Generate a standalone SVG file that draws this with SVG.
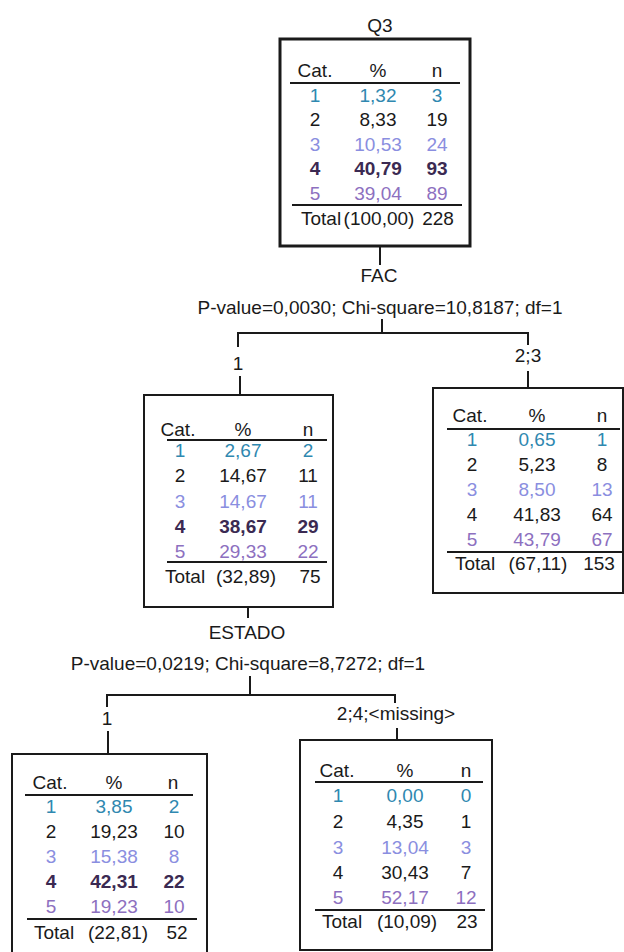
<svg xmlns="http://www.w3.org/2000/svg" width="624" height="952" viewBox="0 0 624 952">
<style>
text{font-family:"Liberation Sans",Arial,sans-serif;font-size:19px;fill:#1a1a1a}
.m{text-anchor:middle}
.r1{fill:#2f88b0}
.r3{fill:#8a8ee0}
.r4{fill:#3b2a52;font-weight:bold}
.r5{fill:#8d70bf}
.box{fill:#fff;stroke:#1a1a1a;stroke-width:2}
.ln{stroke:#1a1a1a;stroke-width:2;fill:none}
</style>
<rect width="624" height="952" fill="#fff"/>

<g id="connectors">
<line class="ln" x1="380" y1="247" x2="380" y2="265"/>
<line class="ln" x1="382" y1="319" x2="382" y2="333"/>
<polyline class="ln" points="238,347 238,333 528,333 528,345"/>
<line class="ln" x1="240" y1="376" x2="240" y2="395"/>
<line class="ln" x1="528" y1="371" x2="528" y2="388"/>
<line class="ln" x1="248" y1="607" x2="248" y2="618"/>
<line class="ln" x1="250" y1="676" x2="250" y2="695"/>
<polyline class="ln" points="107,707 107,695 395,695 395,703"/>
<line class="ln" x1="108" y1="731" x2="108" y2="754"/>
<line class="ln" x1="397" y1="728" x2="397" y2="740"/>
</g>

<g id="labels">
<text class="m" x="380" y="32">Q3</text>
<text class="m" x="379" y="282">FAC</text>
<text class="m" x="380" y="314">P-value=0,0030; Chi-square=10,8187; df=1</text>
<text class="m" x="238" y="370">1</text>
<text class="m" x="528" y="362">2;3</text>
<text class="m" x="247" y="639">ESTADO</text>
<text class="m" x="248" y="670">P-value=0,0219; Chi-square=8,7272; df=1</text>
<text class="m" x="107" y="725">1</text>
<text class="m" x="396" y="720">2;4;&lt;missing&gt;</text>
</g>

<g id="node-q3">
<rect class="box" x="280" y="39" width="190" height="207" style="stroke-width:3"/>
<text class="m" x="315" y="77">Cat.</text><text class="m" x="378" y="77">%</text><text class="m" x="437" y="77">n</text>
<line class="ln" x1="290" y1="83" x2="460" y2="83"/>
<text class="m r1" x="315" y="102">1</text><text class="m r1" x="378" y="102">1,32</text><text class="m r1" x="437" y="102">3</text>
<text class="m" x="315" y="126">2</text><text class="m" x="378" y="126">8,33</text><text class="m" x="437" y="126">19</text>
<text class="m r3" x="315" y="151">3</text><text class="m r3" x="378" y="151">10,53</text><text class="m r3" x="437" y="151">24</text>
<text class="m r4" x="315" y="175">4</text><text class="m r4" x="378" y="175">40,79</text><text class="m r4" x="437" y="175">93</text>
<text class="m r5" x="315" y="200">5</text><text class="m r5" x="378" y="200">39,04</text><text class="m r5" x="437" y="200">89</text>
<line class="ln" x1="292" y1="205" x2="462" y2="205"/>
<text x="301" y="225">Total</text><text class="m" x="379" y="225">(100,00)</text><text class="m" x="438" y="225">228</text>
</g>

<g id="node-fac-1">
<rect class="box" x="144" y="395" width="189" height="212"/>
<text class="m" x="178" y="436">Cat.</text><text class="m" x="243" y="436">%</text><text class="m" x="308" y="436">n</text>
<line class="ln" x1="167" y1="440" x2="327" y2="440"/>
<text class="m r1" x="180" y="457">1</text><text class="m r1" x="243" y="457">2,67</text><text class="m r1" x="308" y="457">2</text>
<text class="m" x="180" y="482">2</text><text class="m" x="243" y="482">14,67</text><text class="m" x="308" y="482">11</text>
<text class="m r3" x="180" y="508">3</text><text class="m r3" x="243" y="508">14,67</text><text class="m r3" x="308" y="508">11</text>
<text class="m r4" x="180" y="533">4</text><text class="m r4" x="243" y="533">38,67</text><text class="m r4" x="308" y="533">29</text>
<text class="m r5" x="180" y="558">5</text><text class="m r5" x="243" y="558">29,33</text><text class="m r5" x="308" y="558">22</text>
<line class="ln" x1="167" y1="562" x2="327" y2="562"/>
<text x="165" y="583">Total</text><text class="m" x="246" y="583">(32,89)</text><text class="m" x="310" y="583">75</text>
</g>

<g id="node-fac-23">
<rect class="box" x="433" y="388" width="190" height="205"/>
<text class="m" x="470" y="422">Cat.</text><text class="m" x="537" y="422">%</text><text class="m" x="602" y="422">n</text>
<line class="ln" x1="447" y1="429" x2="620" y2="429"/>
<text class="m r1" x="472" y="446">1</text><text class="m r1" x="537" y="446">0,65</text><text class="m r1" x="602" y="446">1</text>
<text class="m" x="472" y="471">2</text><text class="m" x="537" y="471">5,23</text><text class="m" x="602" y="471">8</text>
<text class="m r3" x="472" y="496">3</text><text class="m r3" x="537" y="496">8,50</text><text class="m r3" x="602" y="496">13</text>
<text class="m" x="472" y="521">4</text><text class="m" x="537" y="521">41,83</text><text class="m" x="602" y="521">64</text>
<text class="m r5" x="472" y="546">5</text><text class="m r5" x="537" y="546">43,79</text><text class="m r5" x="602" y="546">67</text>
<line class="ln" x1="447" y1="552" x2="622" y2="552"/>
<text x="455" y="570">Total</text><text class="m" x="538" y="570">(67,11)</text><text class="m" x="599" y="570">153</text>
</g>

<g id="node-estado-1">
<rect class="box" x="12" y="754" width="195" height="210"/>
<text class="m" x="50" y="789">Cat.</text><text class="m" x="114" y="789">%</text><text class="m" x="173" y="789">n</text>
<line class="ln" x1="25" y1="795" x2="193" y2="795"/>
<text class="m r1" x="51" y="813">1</text><text class="m r1" x="114" y="813">3,85</text><text class="m r1" x="174" y="813">2</text>
<text class="m" x="51" y="838">2</text><text class="m" x="114" y="838">19,23</text><text class="m" x="174" y="838">10</text>
<text class="m r3" x="51" y="863">3</text><text class="m r3" x="114" y="863">15,38</text><text class="m r3" x="174" y="863">8</text>
<text class="m r4" x="51" y="888">4</text><text class="m r4" x="114" y="888">42,31</text><text class="m r4" x="174" y="888">22</text>
<text class="m r5" x="51" y="913">5</text><text class="m r5" x="114" y="913">19,23</text><text class="m r5" x="174" y="913">10</text>
<line class="ln" x1="27" y1="919" x2="197" y2="919"/>
<text x="34" y="939">Total</text><text class="m" x="118" y="939">(22,81)</text><text class="m" x="177" y="939">52</text>
</g>

<g id="node-estado-24m">
<rect class="box" x="300" y="740" width="192" height="210"/>
<text class="m" x="337" y="777">Cat.</text><text class="m" x="405" y="777">%</text><text class="m" x="466" y="777">n</text>
<line class="ln" x1="315" y1="782" x2="483" y2="782"/>
<text class="m r1" x="338" y="802">1</text><text class="m r1" x="405" y="802">0,00</text><text class="m r1" x="466" y="802">0</text>
<text class="m" x="338" y="828">2</text><text class="m" x="405" y="828">4,35</text><text class="m" x="466" y="828">1</text>
<text class="m r3" x="338" y="854">3</text><text class="m r3" x="405" y="854">13,04</text><text class="m r3" x="466" y="854">3</text>
<text class="m" x="338" y="879">4</text><text class="m" x="405" y="879">30,43</text><text class="m" x="466" y="879">7</text>
<text class="m r5" x="338" y="904">5</text><text class="m r5" x="405" y="904">52,17</text><text class="m r5" x="466" y="904">12</text>
<line class="ln" x1="315" y1="910" x2="485" y2="910"/>
<text x="322" y="928">Total</text><text class="m" x="407" y="928">(10,09)</text><text class="m" x="467" y="928">23</text>
</g>
</svg>
